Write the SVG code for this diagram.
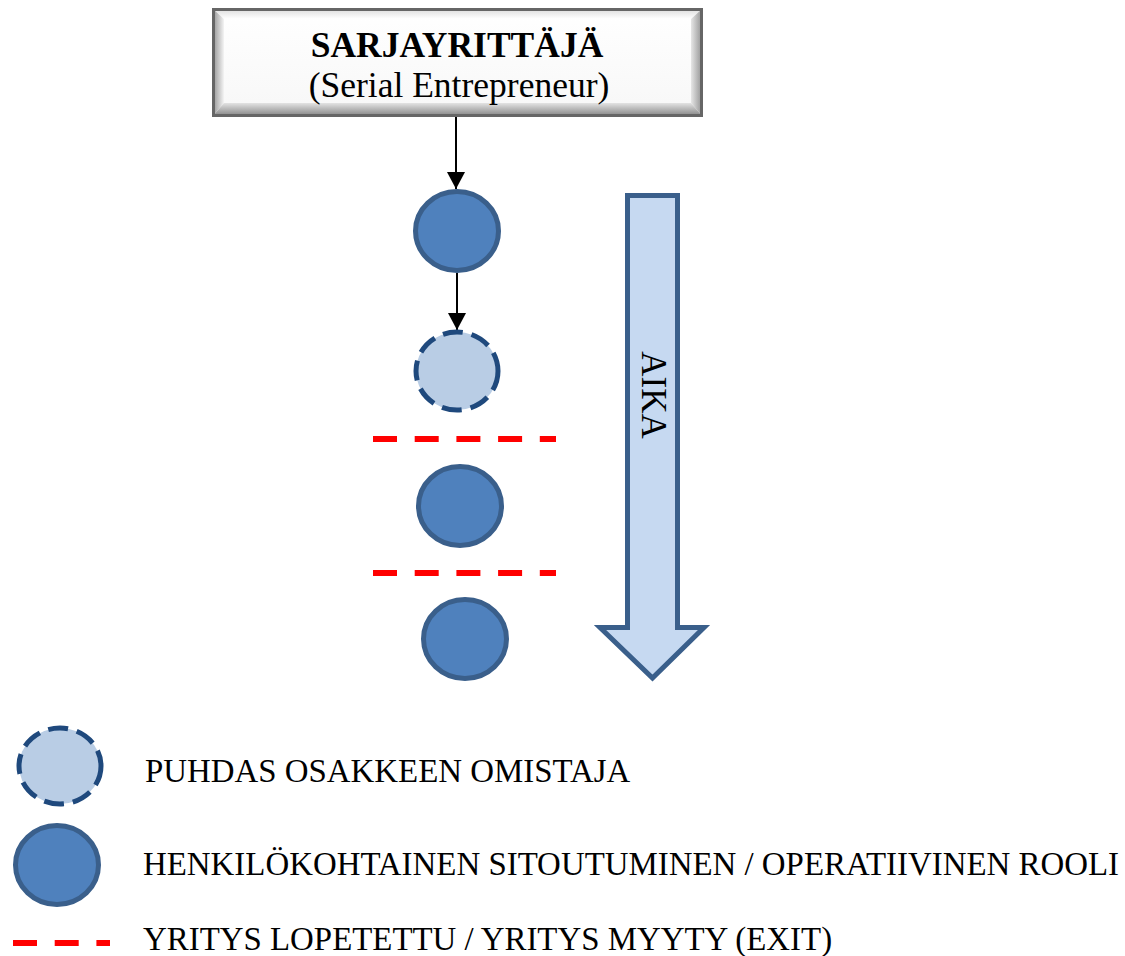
<svg xmlns="http://www.w3.org/2000/svg" width="1125" height="956" viewBox="0 0 1125 956">
  <defs>
    <style>
      .serif { font-family: "Liberation Serif", "Times New Roman", serif; fill: #000; }
      .title { font-size: 35.5px; font-weight: bold; }
      .sub { font-size: 35.5px; }
      .legend { font-size: 32.9px; }
      .aika { font-size: 35px; }
      .role { fill: #4F81BD; stroke: #3A5F8B; stroke-width: 5; }
      .owner { fill: #B9CDE5; stroke: #1F497D; stroke-width: 5; stroke-dasharray: 20 9; }
      .exit { stroke: #FF0000; stroke-width: 6; stroke-dasharray: 24 17.7; fill: none; }
      .flow { stroke: #000; stroke-width: 2; fill: none; }
    </style>
    <linearGradient id="bevTop" x1="0" y1="0" x2="0" y2="1">
      <stop offset="0" stop-color="#d9d9d9"/>
      <stop offset="1" stop-color="#ffffff"/>
    </linearGradient>
    <linearGradient id="bevLeft" x1="0" y1="0" x2="1" y2="0">
      <stop offset="0" stop-color="#8c8c8c"/>
      <stop offset="1" stop-color="#f4f4f4"/>
    </linearGradient>
    <linearGradient id="bevRight" x1="1" y1="0" x2="0" y2="0">
      <stop offset="0" stop-color="#8c8c8c"/>
      <stop offset="1" stop-color="#e6e6e6"/>
    </linearGradient>
    <linearGradient id="bevBottom" x1="0" y1="1" x2="0" y2="0">
      <stop offset="0" stop-color="#7d7d7d"/>
      <stop offset="1" stop-color="#e3e3e3"/>
    </linearGradient>
    <linearGradient id="face" x1="0" y1="0" x2="0" y2="1">
      <stop offset="0" stop-color="#ffffff"/>
      <stop offset="1" stop-color="#f7f7f7"/>
    </linearGradient>
    <marker id="head" markerUnits="userSpaceOnUse" markerWidth="18" markerHeight="18" viewBox="0 0 18 18" refX="17" refY="9" orient="auto">
      <path d="M0,0 L17,9 L0,18 Z" fill="#000"/>
    </marker>
  </defs>

  <rect width="1125" height="956" fill="#ffffff"/>

  <!-- bevelled title box -->
  <g id="serial-entrepreneur">
    <rect x="212" y="8" width="491" height="109" fill="url(#face)"/>
    <polygon points="212,8 703,8 691,19 224,19" fill="url(#bevTop)"/>
    <polygon points="212,8 224,19 224,103 212,117" fill="url(#bevLeft)"/>
    <polygon points="703,8 703,117 691,103 691,19" fill="url(#bevRight)"/>
    <polygon points="212,117 224,103 691,103 703,117" fill="url(#bevBottom)"/>
    <rect x="213.5" y="9.5" width="488" height="106" fill="none" stroke="#666666" stroke-width="3"/>
    <text class="serif title" x="457" y="57" text-anchor="middle">SARJAYRITTÄJÄ</text>
    <text class="serif sub" x="459" y="96.5" text-anchor="middle">(Serial Entrepreneur)</text>
  </g>

  <!-- connectors -->
  <g id="connectors">
    <line class="flow" x1="456" y1="117" x2="456" y2="189" marker-end="url(#head)"/>
    <line class="flow" x1="457" y1="273" x2="457" y2="330" marker-end="url(#head)"/>
  </g>

  <!-- venture sequence -->
  <g id="venture-1">
    <ellipse class="role" cx="457" cy="231" rx="41.5" ry="39.5"/>
  </g>
  <g id="venture-2">
    <ellipse class="owner" cx="457" cy="371" rx="41" ry="39"/>
  </g>
  <g id="exit-1">
    <line class="exit" x1="373" y1="439" x2="556" y2="439"/>
  </g>
  <g id="venture-3">
    <ellipse class="role" cx="460" cy="506" rx="41.5" ry="39.5"/>
  </g>
  <g id="exit-2">
    <line class="exit" x1="373" y1="573" x2="556" y2="573"/>
  </g>
  <g id="venture-4">
    <ellipse class="role" cx="465" cy="639" rx="41.5" ry="39.5"/>
  </g>

  <!-- time arrow -->
  <g id="aika">
    <path d="M627.5,195.5 L677.5,195.5 L677.5,627.5 L704,627.5 L652.5,678 L600,627.5 L627.5,627.5 Z" fill="#C6D9F1" stroke="#3A5F8B" stroke-width="5" stroke-linejoin="miter"/>
    <text class="serif aika" transform="translate(642,395) rotate(90)" text-anchor="middle">AIKA</text>
  </g>

  <!-- legend -->
  <g id="legend-owner">
    <ellipse class="owner" cx="60" cy="766" rx="41" ry="38"/>
    <text class="serif legend" x="145" y="782">PUHDAS OSAKKEEN OMISTAJA</text>
  </g>
  <g id="legend-role">
    <ellipse class="role" cx="57" cy="865" rx="41.5" ry="39.5"/>
    <text class="serif legend" x="143" y="875">HENKILÖKOHTAINEN SITOUTUMINEN / OPERATIIVINEN ROOLI</text>
  </g>
  <g id="legend-exit">
    <line class="exit" x1="13" y1="943" x2="110" y2="943"/>
    <text class="serif legend" x="143" y="950">YRITYS LOPETETTU / YRITYS MYYTY (EXIT)</text>
  </g>
</svg>
